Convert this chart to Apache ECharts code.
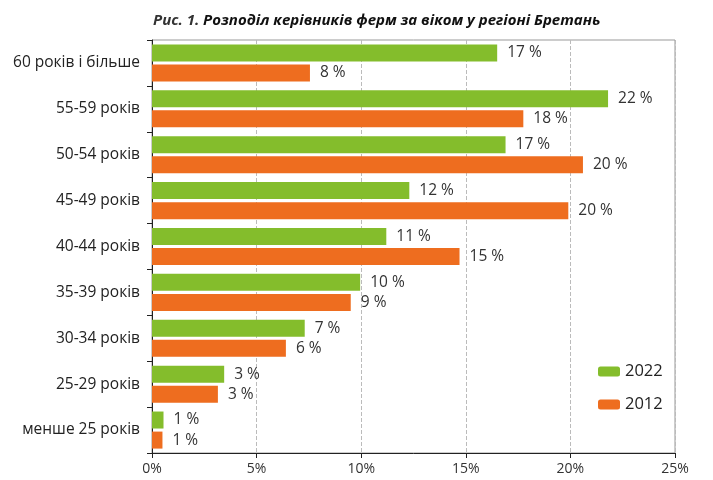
<!DOCTYPE html>
<html>
<head>
<meta charset="utf-8">
<script src="https://cdn.jsdelivr.net/npm/echarts@6/dist/echarts.min.js"></script>
<style>
html,body{margin:0;padding:0;background:#fff;}
#c{width:713px;height:480px;}
</style>
</head>
<body>
<div id="c"></div>
<script>
const categories = ['60 років і більше','55-59 років','50-54 років','45-49 років','40-44 років','35-39 років','30-34 років','25-29 років','менше 25 років'];
const values2022 = [16.5, 21.8, 16.9, 12.3, 11.2, 9.95, 7.3, 3.45, 0.55];
const values2012 = [7.55, 17.75, 20.6, 19.9, 14.7, 9.5, 6.4, 3.15, 0.5];
const labels2022 = ['17 %','22 %','17 %','12 %','11 %','10 %','7 %','3 %','1 %'];
const labels2012 = ['8 %','18 %','20 %','20 %','15 %','9 %','6 %','3 %','1 %'];
const xTicks = [0,5,10,15,20,25];

const chart = echarts.init(document.getElementById('c'));
const labelStyle = {show:true, position:'right', distance:10, fontFamily:'Open Sans', fontSize:15.5, color:'#333'};
chart.setOption({
  animation:false,
  title:{
    text:'{n|Рис. 1. }{b|Розподіл керівників ферм за віком у регіоні Бретань}',
    left:148, top:8,
    textStyle:{
      rich:{
        n:{fontFamily:'Open Sans', fontStyle:'italic', fontSize:15, color:'#333'},
        b:{fontFamily:'Open Sans', fontStyle:'italic', fontWeight:'bold', fontSize:15, color:'#111'}
      }
    }
  },
  legend:{
    orient:'vertical', left:593, top:358, itemWidth:22, itemHeight:10, itemGap:16,
    textStyle:{fontFamily:'Open Sans', fontSize:16.5, color:'#222'},
    data:['2022','2012']
  },
  grid:{left:152, right:38, top:40, bottom:27, show:true, borderColor:'#999', borderWidth:1},
  xAxis:{
    type:'value', min:0, max:25, interval:5,
    axisLine:{show:true, lineStyle:{color:'#222'}},
    axisTick:{show:true, length:5, lineStyle:{color:'#222'}},
    axisLabel:{formatter: v => v + '%', fontFamily:'Open Sans', fontSize:14, color:'#333', margin:9},
    splitLine:{show:true, lineStyle:{type:'dashed', color:'#bbb'}}
  },
  yAxis:{
    type:'category', data:categories, inverse:true,
    axisLine:{show:true, lineStyle:{color:'#222'}},
    axisTick:{show:true, length:5, lineStyle:{color:'#222'}},
    axisLabel:{fontFamily:'Open Sans', fontSize:15.5, color:'#222', margin:12}
  },
  series:[
    {name:'2022', type:'bar', data:values2022, barWidth:17, barGap:'18%', itemStyle:{color:'#84bd2c'},
      label:Object.assign({}, labelStyle, {formatter: p => labels2022[p.dataIndex]})},
    {name:'2012', type:'bar', data:values2012, barWidth:17, itemStyle:{color:'#ee6d1f'},
      label:Object.assign({}, labelStyle, {formatter: p => labels2012[p.dataIndex]})}
  ]
});
</script>
</body>
</html>
